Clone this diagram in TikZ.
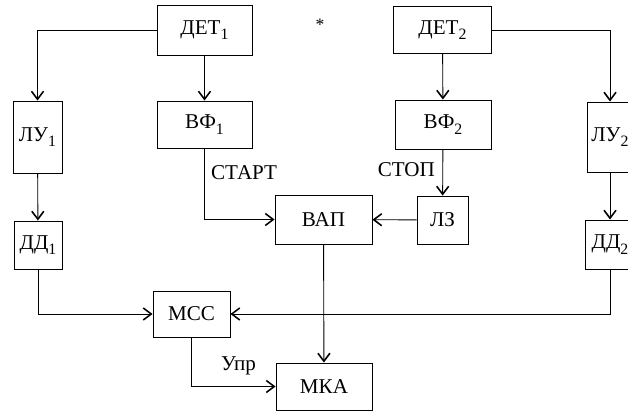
\documentclass[tikz,border=0pt]{standalone}
\usepackage{fontspec}
\setmainfont{Liberation Serif}
\usetikzlibrary{positioning,arrows.meta}
\newcommand{\subidx}[1]{\raisebox{-0.55ex}{\fontsize{9}{10}\selectfont #1}}

\tikzset{
    blk/.style={draw, line width=0.5pt, inner sep=0pt, align=center},
    arr/.style={line width=0.5pt, -{Straight Barb[length=1.6mm,width=2.4mm,line width=0.9pt]}},
    lbl/.style={inner sep=1pt}
}

\begin{document}
\begin{tikzpicture}[x=0.02cm, y=-0.02cm, font=\fontsize{12}{14}\selectfont]
        \useasboundingbox (0,0) rectangle (628,411);
        \clip (0,0) rectangle (628,411);
        % top row
        \node[blk, minimum width=1.9cm, minimum height=1cm] (det1) at (204.5,30) {ДЕТ\subidx{1}};
        \node[blk, minimum width=1.96cm, minimum height=0.94cm] (det2) at (442.5,30) {ДЕТ\subidx{2}};
        \node[lbl, font=\fontsize{10}{12}\selectfont] (star) at (320,25) {*};
        % second row
        \node[blk, minimum width=0.98cm, minimum height=1.44cm] (lu1) at (37.5,137) {ЛУ\subidx{1}};
        \node[blk, minimum width=1.9cm, minimum height=0.94cm] (vf1) at (204.5,124.5) {ВФ\subidx{1}};
        \node[blk, minimum width=1.92cm, minimum height=0.98cm] (vf2) at (443,124.5) {ВФ\subidx{2}};
        \node[blk, minimum width=0.92cm, minimum height=1.4cm] (lu2) at (610,137) {ЛУ\subidx{2}};
        % third row
        \node[blk, minimum width=0.96cm, minimum height=0.96cm] (dd1) at (38,245) {ДД\subidx{1}};
        \node[blk, minimum width=1.94cm, minimum height=0.98cm] (vap) at (323.5,219.5) {ВАП};
        \node[blk, minimum width=1.02cm, minimum height=0.96cm] (lz) at (442.5,220) {ЛЗ};
        \node[blk, minimum width=1cm, minimum height=0.98cm] (dd2) at (610,244.5) {ДД\subidx{2}};
        % bottom
        \node[blk, minimum width=1.54cm, minimum height=0.92cm] (mss) at (191.5,314) {МСС};
        \node[blk, minimum width=1.92cm, minimum height=0.94cm] (mka) at (324,386.5) {МКА};
        % labels
        \node[lbl, anchor=west] (start) at (209,173) {СТАРТ};
        \node[lbl, anchor=east] (stop) at (437,170) {СТОП};
        \node[lbl, anchor=west] (upr) at (219,366) {Упр};
        % connections
        \draw[arr] (det1.west) -| (lu1.north);
        \draw[arr] (det1) -- (vf1);
        \draw[arr] (lu1) -- (dd1);
        \draw[arr] (vf1.south) |- (vap.west);
        \draw[arr] (det2) -- (vf2);
        \draw[arr] (vf2) -- (lz);
        \draw[arr] (lz) -- (vap);
        \draw[arr] (det2.east) -| (lu2.north);
        \draw[arr] (lu2) -- (dd2);
        \draw[arr] (dd1.south) |- (mss.west);
        \draw[arr] (dd2.south) |- (mss.east);
        \draw[arr] (vap) -- (mka);
        \draw[arr] (mss.south) |- (mka.west);
    \end{tikzpicture}
\end{document}
